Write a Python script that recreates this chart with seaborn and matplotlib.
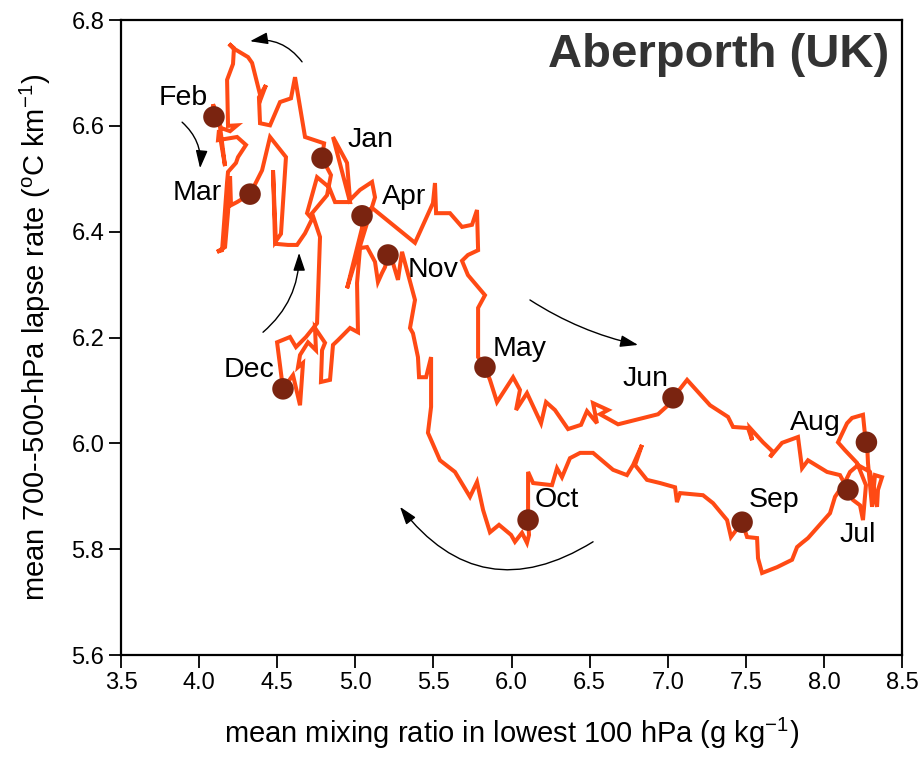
import numpy as np
import pandas as pd
import matplotlib
matplotlib.use("Agg")
import matplotlib.pyplot as plt
import seaborn as sns

# ---- data: daily trajectory (mixing ratio, lapse rate), Jan -> Dec -> Jan
mixing_ratio = [
    4.787, 4.800, 4.678, 4.614, 4.588, 4.518, 4.454, 4.390, 4.383, 4.428,
    4.396, 4.339, 4.313, 4.217, 4.191, 4.223, 4.217, 4.179, 4.185, 4.243,
    4.198, 4.140, 4.089, 4.102, 4.134, 4.166, 4.127, 4.121, 4.243, 4.300,
    4.249, 4.236, 4.185, 4.179, 4.147, 4.115, 4.166, 4.185, 4.198, 4.204,
    4.243, 4.326, 4.403, 4.454, 4.556, 4.524, 4.486, 4.473, 4.492, 4.569,
    4.627, 4.678, 4.723, 4.691, 4.755, 4.832, 4.870, 4.966, 4.857, 4.947,
    4.966, 5.030, 5.107, 5.126, 5.081, 4.947, 5.043, 5.043, 5.107, 5.382,
    5.497, 5.510, 5.517, 5.606, 5.683, 5.747, 5.779, 5.786, 5.721, 5.683,
    5.721, 5.830, 5.786, 5.786, 5.830, 5.862, 5.907, 6.010, 6.054, 6.029,
    6.099, 6.189, 6.221, 6.278, 6.362, 6.445, 6.483, 6.547, 6.522, 6.618,
    6.567, 6.682, 6.938, 7.002, 7.034, 7.124, 7.271, 7.386, 7.418, 7.514,
    7.540, 7.527, 7.610, 7.674, 7.655, 7.732, 7.834, 7.860, 7.898, 8.020,
    8.103, 8.154, 8.186, 8.231, 8.250, 8.269, 8.212, 8.135, 8.090, 8.148,
    8.180, 8.250, 8.263, 8.276, 8.282, 8.308, 8.327, 8.372, 8.346, 8.340,
    8.295, 8.218, 8.167, 8.135, 8.071, 8.039, 7.898, 7.860, 7.828, 7.796,
    7.700, 7.604, 7.578, 7.572, 7.508, 7.476, 7.405, 7.380, 7.290, 7.226,
    7.079, 7.059, 7.047, 6.951, 6.867, 6.791, 6.835, 6.778, 6.739, 6.650,
    6.522, 6.439, 6.374, 6.323, 6.291, 6.259, 6.138, 6.106, 6.106, 6.112,
    6.099, 6.067, 6.022, 5.997, 5.920, 5.862, 5.818, 5.779, 5.734, 5.638,
    5.542, 5.465, 5.485, 5.485, 5.453, 5.408, 5.401, 5.369, 5.350, 5.382,
    5.331, 5.299, 5.273, 5.241, 5.209, 5.190, 5.171, 5.145, 5.126, 5.075,
    5.030, 5.011, 5.017, 4.966, 4.889, 4.857, 4.838, 4.780, 4.787, 4.806,
    4.742, 4.748, 4.697, 4.646, 4.633, 4.665, 4.646, 4.601, 4.537, 4.499,
    4.582, 4.620, 4.684, 4.755, 4.774, 4.723, 4.819, 4.844, 4.787,
]
lapse_rate = [
    6.539, 6.567, 6.579, 6.692, 6.652, 6.645, 6.601, 6.605, 6.654, 6.677,
    6.652, 6.719, 6.730, 6.747, 6.755, 6.747, 6.717, 6.687, 6.600, 6.601,
    6.590, 6.596, 6.641, 6.617, 6.598, 6.524, 6.592, 6.573, 6.579, 6.564,
    6.541, 6.530, 6.513, 6.494, 6.365, 6.362, 6.371, 6.437, 6.505, 6.450,
    6.456, 6.471, 6.516, 6.579, 6.541, 6.396, 6.380, 6.516, 6.377, 6.375,
    6.375, 6.397, 6.424, 6.435, 6.503, 6.484, 6.456, 6.456, 6.579, 6.530,
    6.460, 6.479, 6.494, 6.465, 6.422, 6.293, 6.407, 6.430, 6.445, 6.379,
    6.454, 6.492, 6.435, 6.435, 6.409, 6.413, 6.441, 6.365, 6.356, 6.345,
    6.318, 6.280, 6.256, 6.163, 6.144, 6.120, 6.078, 6.125, 6.101, 6.063,
    6.095, 6.038, 6.078, 6.063, 6.027, 6.035, 6.061, 6.038, 6.076, 6.063,
    6.055, 6.036, 6.055, 6.072, 6.086, 6.120, 6.072, 6.050, 6.031, 6.029,
    6.006, 6.029, 6.002, 5.984, 5.974, 6.001, 6.012, 5.953, 5.968, 5.946,
    5.940, 5.912, 5.893, 5.883, 5.855, 5.921, 5.963, 5.987, 6.002, 6.038,
    6.048, 6.054, 6.016, 6.002, 5.963, 5.880, 5.940, 5.936, 5.912, 5.880,
    5.946, 5.959, 5.946, 5.927, 5.899, 5.868, 5.821, 5.812, 5.804, 5.780,
    5.766, 5.755, 5.783, 5.821, 5.823, 5.851, 5.823, 5.855, 5.887, 5.902,
    5.906, 5.889, 5.917, 5.925, 5.931, 5.959, 5.997, 5.959, 5.940, 5.950,
    5.982, 5.982, 5.972, 5.936, 5.953, 5.921, 5.925, 5.946, 5.855, 5.827,
    5.812, 5.831, 5.814, 5.827, 5.846, 5.832, 5.874, 5.927, 5.899, 5.946,
    5.968, 6.020, 6.069, 6.163, 6.125, 6.125, 6.163, 6.208, 6.218, 6.271,
    6.327, 6.362, 6.309, 6.341, 6.356, 6.333, 6.322, 6.305, 6.343, 6.371,
    6.369, 6.303, 6.210, 6.218, 6.195, 6.186, 6.120, 6.116, 6.176, 6.190,
    6.218, 6.176, 6.191, 6.167, 6.144, 6.152, 6.072, 6.129, 6.103, 6.191,
    6.201, 6.182, 6.201, 6.227, 6.390, 6.435, 6.469, 6.507, 6.539,
]

months = ["Jan", "Feb", "Mar", "Apr", "May", "Jun",
          "Jul", "Aug", "Sep", "Oct", "Nov", "Dec"]
month_mixing = [4.787, 4.095, 4.326, 5.043, 5.830, 7.034,
                8.154, 8.272, 7.476, 6.106, 5.209, 4.537]
month_lapse = [6.539, 6.617, 6.471, 6.430, 6.144, 6.086,
               5.912, 6.002, 5.851, 5.855, 6.356, 6.103]

x_ticks = [3.5, 4.0, 4.5, 5.0, 5.5, 6.0, 6.5, 7.0, 7.5, 8.0, 8.5]
y_ticks = [5.6, 5.8, 6.0, 6.2, 6.4, 6.6, 6.8]

# ---- layout / style (not data)
label_offsets_px = {
    "Jan": (48, 18), "Feb": (-31, 19), "Mar": (-53, 1), "Apr": (42, 19),
    "May": (35, 18), "Jun": (-28, 19), "Jul": (10, -45), "Aug": (-51, 19),
    "Sep": (32, 22), "Oct": (29, 20), "Nov": (45, -15), "Dec": (-34, 19),
}
line_color = "#FF4A14"
marker_color = "#7A2410"

sns.set_style("ticks")
plt.rcParams["font.family"] = ["Liberation Sans", "DejaVu Sans"]
plt.rcParams["mathtext.fontset"] = "custom"
plt.rcParams["mathtext.rm"] = "Liberation Sans"
plt.rcParams["mathtext.it"] = "Liberation Sans:italic"
plt.rcParams["text.color"] = "black"
plt.rcParams["axes.labelcolor"] = "black"
plt.rcParams["xtick.color"] = "black"
plt.rcParams["ytick.color"] = "black"

fig = plt.figure(figsize=(9.21, 7.59), dpi=100)
ax = fig.add_axes([0.1314, 0.137, 0.848, 0.8366])

traj = pd.DataFrame({"order": np.arange(len(mixing_ratio)),
                     "q": mixing_ratio, "lr": lapse_rate})
sns.lineplot(data=traj, x="q", y="lr", sort=False, estimator=None,
             color=line_color, lw=2.9, ax=ax, solid_joinstyle="miter")

mon = pd.DataFrame({"month": months, "q": month_mixing, "lr": month_lapse})
sns.scatterplot(data=mon, x="q", y="lr", s=240, color=marker_color,
                edgecolor="none", ax=ax, zorder=5)

for m, qx, ly in zip(months, month_mixing, month_lapse):
    ax.annotate(m, (qx, ly), xytext=label_offsets_px[m],
                textcoords="offset pixels", ha="center", va="center",
                fontsize=20.5, color="black", zorder=6)

# direction arrows
arrows = [
    ((4.659, 6.721), (4.326, 6.760), 0.3),
    ((3.891, 6.607), (4.006, 6.520), -0.25),
    ((4.409, 6.210), (4.640, 6.360), 0.23),
    ((6.118, 6.271), (6.810, 6.186), 0.09),
    ((6.522, 5.814), (5.286, 5.880), -0.45),
]
for start, end, rad in arrows:
    ax.annotate("", xy=end, xytext=start,
                arrowprops=dict(arrowstyle="-|>,head_length=0.9,head_width=0.3",
                                color="black", lw=1.0, mutation_scale=12,
                                connectionstyle=f"arc3,rad={rad}",
                                shrinkA=0, shrinkB=0))

ax.text(0.983, 0.945, "Aberporth (UK)", transform=ax.transAxes,
        ha="right", va="center", fontsize=34, fontweight="bold",
        color="#333333")

ax.set_xlim(3.5, 8.5)
ax.set_ylim(5.6, 6.8)
ax.set_xticks(x_ticks)
ax.set_yticks(y_ticks)
ax.set_xticklabels([f"{v:.1f}" for v in x_ticks])
ax.set_yticklabels([f"{v:.1f}" for v in y_ticks])
ax.tick_params(direction="out", length=9, width=1.3, labelsize=17,
               top=False, right=False, pad=3, colors="black")
for s in ax.spines.values():
    s.set_visible(True)
    s.set_linewidth(1.6)
    s.set_color("black")

ax.set_xlabel(r"mean mixing ratio in lowest 100 hPa (g kg$^{-1}$)",
              fontsize=21, labelpad=16)
ax.set_ylabel(r"mean 700--500-hPa lapse rate ($^{\rm o}$C km$^{-1}$)",
              fontsize=21, labelpad=13)

fig.savefig("out.png", dpi=100)
